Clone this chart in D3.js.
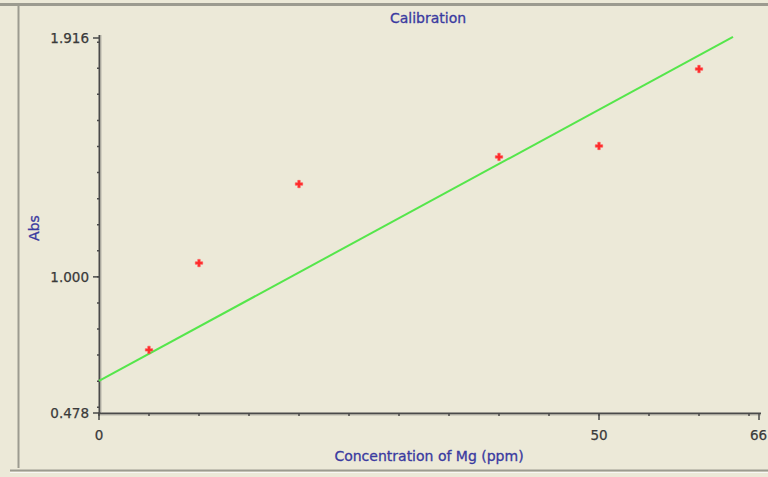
<!DOCTYPE html>
<html><head><meta charset="utf-8">
<script src="https://cdn.jsdelivr.net/npm/d3@7/dist/d3.min.js"></script>
<style>
html,body{margin:0;padding:0;background:#ECE9D8;}
svg{display:block;}
</style></head>
<body>
<svg id="chart" width="768" height="477"></svg>
<script>
// Data
const concentrations = [5, 10, 20, 40, 50, 60];
const absorbances = [0.720, 1.053, 1.356, 1.460, 1.502, 1.797];
const fitX = [0, 63.4];
const fitY = [0.601, 1.920];
const xTickLabels = [0, 50, 66];
const yTickLabels = [0.478, 1.000, 1.916];
const xMinorTicks = d3.range(0, 66, 5);
const yMinorTicks = d3.range(0.5, 1.95, 0.1).map(v => +v.toFixed(1));

const svg = d3.select("#chart");
const W = 768, H = 477;
svg.append("rect").attr("width", W).attr("height", H).attr("fill", "#ECE9D8");

// panel frame
svg.append("line").attr("x1", 0).attr("x2", W).attr("y1", 4.5).attr("y2", 4.5).attr("stroke", "#9c9b90").attr("stroke-width", 3);
svg.append("line").attr("x1", 18.5).attr("x2", 18.5).attr("y1", 4).attr("y2", 468).attr("stroke", "#9c9b90").attr("stroke-width", 2);
svg.append("line").attr("x1", 10).attr("x2", W).attr("y1", 470.5).attr("y2", 470.5).attr("stroke", "#9c9b90").attr("stroke-width", 2);
svg.append("line").attr("x1", 10).attr("x2", W).attr("y1", 472.5).attr("y2", 472.5).attr("stroke", "#ffffff").attr("stroke-width", 1).attr("opacity", 0.7);

const x = d3.scaleLinear().domain([0, 66]).range([99, 759]);
const y = d3.scaleLinear().domain([0.478, 1.916]).range([413, 38]);

const axisColor = "#4a4a4a";
const tickFont = "DejaVu Sans, sans-serif";

// Y axis
const yAxisG = svg.append("g").attr("transform", "translate(99,0)");
yAxisG.append("line").attr("x1", 0.5).attr("x2", 0.5).attr("y1", 35).attr("y2", 414).attr("stroke", axisColor).attr("stroke-width", 2);
yAxisG.append("line").attr("x1", 2).attr("x2", 2).attr("y1", 35).attr("y2", 412).attr("stroke", "#b8b6aa").attr("stroke-width", 1);
yAxisG.selectAll(".ymin").data(yMinorTicks).join("line")
  .attr("x1", -2).attr("x2", 0).attr("y1", d => y(d)).attr("y2", d => y(d))
  .attr("stroke", axisColor).attr("stroke-width", 1.5);
yAxisG.selectAll(".ymaj").data(yTickLabels).join("line")
  .attr("x1", -6).attr("x2", 0).attr("y1", d => y(d)).attr("y2", d => y(d))
  .attr("stroke", axisColor).attr("stroke-width", 1.5);
yAxisG.selectAll(".ylab").data(yTickLabels).join("text")
  .attr("x", -10).attr("y", d => y(d)).attr("dy", "0.35em")
  .attr("text-anchor", "end").attr("font-family", tickFont).attr("font-size", 13.5)
  .attr("fill", "#3a3a3a").attr("stroke", "#3a3a3a").attr("stroke-width", 0.25)
  .text(d => d3.format(".3f")(d));

// X axis
const xAxisG = svg.append("g").attr("transform", "translate(0,413)");
xAxisG.append("line").attr("x1", 98).attr("x2", 761).attr("y1", 0.5).attr("y2", 0.5).attr("stroke", axisColor).attr("stroke-width", 2);
xAxisG.append("line").attr("x1", 100).attr("x2", 761).attr("y1", 2).attr("y2", 2).attr("stroke", "#b8b6aa").attr("stroke-width", 1);
xAxisG.selectAll(".xmin").data(xMinorTicks).join("line")
  .attr("x1", d => x(d)).attr("x2", d => x(d)).attr("y1", 0).attr("y2", 3)
  .attr("stroke", axisColor).attr("stroke-width", 1.5);
xAxisG.selectAll(".xmaj").data(xTickLabels).join("line")
  .attr("x1", d => x(d)).attr("x2", d => x(d)).attr("y1", 0).attr("y2", 7)
  .attr("stroke", axisColor).attr("stroke-width", 1.5);
xAxisG.selectAll(".xlab").data(xTickLabels).join("text")
  .attr("x", d => x(d)).attr("y", 27)
  .attr("text-anchor", d => d === 66 ? "start" : "middle")
  .attr("dx", d => d === 66 ? -9 : 0)
  .attr("font-family", tickFont).attr("font-size", 13.5)
  .attr("fill", "#3a3a3a").attr("stroke", "#3a3a3a").attr("stroke-width", 0.25)
  .text(d => d);

// Fit line
const line = d3.line().x(d => x(d[0])).y(d => y(d[1]));
svg.append("path").datum(fitX.map((v, i) => [v, fitY[i]]))
  .attr("d", line).attr("fill", "none").attr("stroke", "#55e64b").attr("stroke-width", 2);

// Points
const sym = d3.symbol().type(d3.symbolCross).size(30);
svg.selectAll(".pt").data(concentrations.map((c, i) => [c, absorbances[i]])).join("path")
  .attr("transform", d => `translate(${x(d[0])},${y(d[1])})`)
  .attr("d", sym).attr("fill", "#ff2a2a").attr("stroke", "#ff5050").attr("stroke-width", 0.6);

// Titles
const navy = "#3a3aa0";
svg.append("text").attr("x", 428).attr("y", 23).attr("text-anchor", "middle")
  .attr("font-family", tickFont).attr("font-size", 14).attr("fill", navy)
  .attr("stroke", navy).attr("stroke-width", 0.3).text("Calibration");
svg.append("text").attr("x", 429).attr("y", 461).attr("text-anchor", "middle")
  .attr("font-family", tickFont).attr("font-size", 14).attr("fill", navy)
  .attr("stroke", navy).attr("stroke-width", 0.3).text("Concentration of Mg (ppm)");
svg.append("text").attr("transform", "translate(39,228) rotate(-90)").attr("text-anchor", "middle")
  .attr("font-family", tickFont).attr("font-size", 14).attr("fill", navy)
  .attr("stroke", navy).attr("stroke-width", 0.3).text("Abs");
</script>
</body></html>
